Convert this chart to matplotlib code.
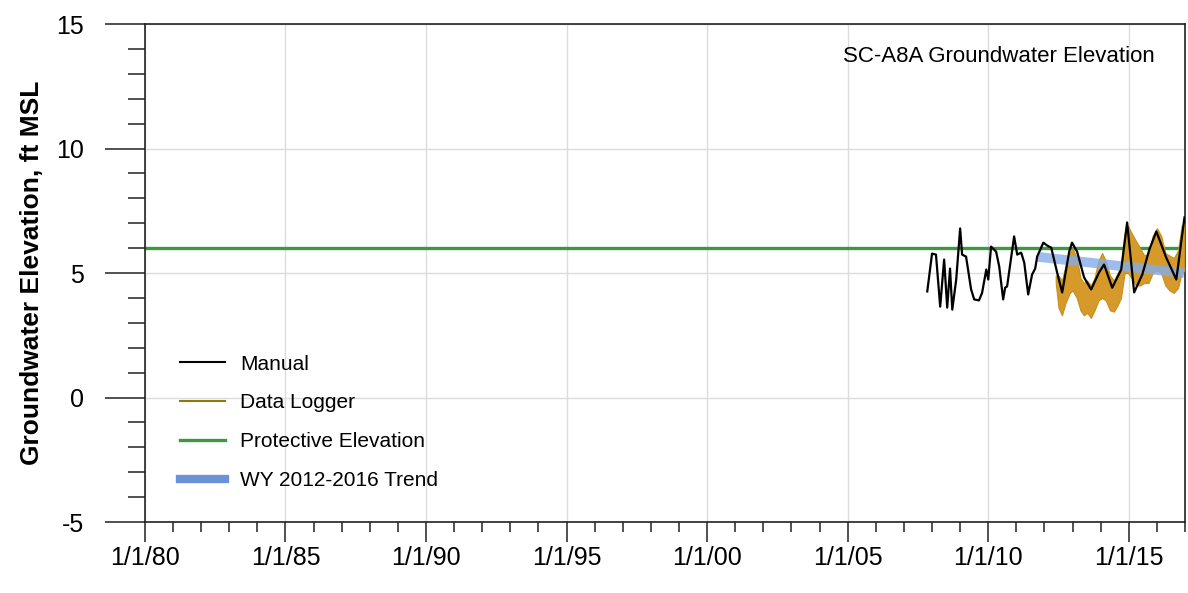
import matplotlib
matplotlib.use("Agg")
import matplotlib.pyplot as plt
from matplotlib.lines import Line2D
from matplotlib.ticker import MultipleLocator, FuncFormatter

# --- data (decimal years, ft MSL) ---
manual_yr = [2007.83, 2008.00, 2008.14, 2008.29, 2008.43, 2008.54, 2008.64, 2008.72,
             2008.86, 2009.00, 2009.07, 2009.21, 2009.39, 2009.50, 2009.67, 2009.78,
             2009.93, 2010.00, 2010.10, 2010.28, 2010.39, 2010.53, 2010.60, 2010.67,
             2010.92, 2011.03, 2011.17, 2011.28, 2011.42, 2011.56, 2011.67, 2011.74,
             2011.96, 2012.10, 2012.24, 2012.45, 2012.63, 2012.88, 2012.98, 2013.16,
             2013.41, 2013.66, 2013.94, 2014.12, 2014.41, 2014.73, 2014.94, 2015.19,
             2015.48, 2015.73, 2015.98, 2016.33, 2016.69, 2016.98]
manual_ft = [4.26, 5.78, 5.74, 3.65, 5.54, 3.61, 5.18, 3.53,
             4.74, 6.79, 5.74, 5.66, 4.34, 3.94, 3.90, 4.20,
             5.14, 4.74, 6.06, 5.86, 5.26, 3.94, 4.41, 4.46,
             6.47, 5.74, 5.82, 5.42, 4.14, 4.94, 5.18, 5.66,
             6.22, 6.10, 6.02, 5.02, 4.22, 5.86, 6.22, 5.86,
             4.82, 4.34, 5.02, 5.34, 4.41, 5.14, 7.03, 4.22,
             4.94, 5.94, 6.67, 5.62, 4.74, 7.23]

# data logger shown as its daily min/max band
logger_yr = [2012.40, 2012.50, 2012.62, 2012.75, 2012.90, 2013.00, 2013.15, 2013.28,
             2013.40, 2013.52, 2013.65, 2013.78, 2013.92, 2014.05, 2014.18, 2014.33,
             2014.47, 2014.60, 2014.72, 2014.85, 2014.97, 2015.10, 2015.25, 2015.40,
             2015.55, 2015.70, 2015.85, 2016.00, 2016.15, 2016.30, 2016.45, 2016.60,
             2016.75, 2016.88, 2016.97]
logger_lo = [4.6, 3.6, 3.3, 3.8, 4.2, 4.3, 4.0, 3.5,
             3.3, 3.4, 3.2, 3.5, 3.9, 4.0, 3.9, 3.5,
             3.45, 3.7, 4.0, 5.0, 5.0, 4.8, 4.5, 4.5,
             4.6, 4.6, 5.0, 5.1, 5.0, 4.5, 4.3, 4.2,
             4.4, 5.0, 5.1]
logger_hi = [4.9, 4.9, 4.7, 5.3, 5.8, 6.0, 5.6, 4.8,
             4.6, 4.7, 4.5, 4.8, 5.5, 5.8, 5.5, 4.9,
             4.7, 5.0, 5.3, 6.6, 6.9, 6.6, 6.3, 6.0,
             5.7, 5.8, 6.5, 6.8, 6.5, 5.8, 5.7, 5.6,
             5.9, 6.9, 7.0]

protective_yr = [1980.0, 2017.0]
protective_ft = [6.0, 6.0]

trend_yr = [2011.75, 2016.97]
trend_ft = [5.65, 5.0]

labels = ["Manual", "Data Logger", "Protective Elevation", "WY 2012-2016 Trend"]

plt.rcParams["font.family"] = ["Liberation Sans", "DejaVu Sans"]

fig = plt.figure(figsize=(11.88, 5.93), dpi=100, facecolor="white")
ax = fig.add_axes([0.122, 0.1197, 0.8755, 0.8398])

ax.grid(True, which="major", color="#dcdcdc", linewidth=1.0)
ax.set_axisbelow(True)

ax.plot(protective_yr, protective_ft, color="#3c9a3c", linewidth=2.4, zorder=2)
ax.fill_between(logger_yr, logger_lo, logger_hi, color="#d59a2a", linewidth=0.8,
                edgecolor="#c98f1e", zorder=3)
ax.plot(trend_yr, trend_ft, color="#86ace8", linewidth=7, alpha=0.8,
        solid_capstyle="butt", zorder=4)
ax.plot(manual_yr, manual_ft, color="black", linewidth=1.6, zorder=5)

ax.set_xlim(1980, 2017)
ax.set_ylim(-5, 15)
ax.xaxis.set_major_locator(MultipleLocator(5))
ax.xaxis.set_minor_locator(MultipleLocator(1))
ax.yaxis.set_major_locator(MultipleLocator(5))
ax.yaxis.set_minor_locator(MultipleLocator(1))
ax.xaxis.set_major_formatter(FuncFormatter(lambda v, p: f"1/1/{int(round(v)) % 100:02d}"))
ax.yaxis.set_major_formatter(FuncFormatter(lambda v, p: f"{int(round(v))}"))

ax.tick_params(axis="y", which="major", direction="out", length=29, width=1.1,
               pad=15, labelsize=18, color="#222222")
ax.tick_params(axis="y", which="minor", direction="out", length=12, width=1.1,
               color="#222222")
ax.tick_params(axis="x", which="major", direction="out", length=14.5, width=1.1,
               pad=3, labelsize=18, color="#222222")
ax.tick_params(axis="x", which="minor", direction="out", length=7, width=1.1,
               color="#222222")
for s in ax.spines.values():
    s.set_linewidth(1.2)
    s.set_color("#222222")

ax.set_ylabel("Groundwater Elevation, ft MSL", fontsize=19, fontweight="bold")
ax.yaxis.set_label_coords(-0.097, 0.5)

ax.text(0.971, 0.935, "SC-A8A Groundwater Elevation", transform=ax.transAxes,
        ha="right", va="center", fontsize=16)

handles = [
    Line2D([], [], color="black", linewidth=1.5),
    Line2D([], [], color="#8a7a10", linewidth=1.5),
    Line2D([], [], color="#3c9a3c", linewidth=2.4),
    Line2D([], [], color="#6b92d6", linewidth=6),
]
ax.legend(handles, labels, loc="upper left", bbox_to_anchor=(0.0337, 0.336),
          frameon=False, prop={"size": 15}, handlelength=2.16, handletextpad=0.72,
          labelspacing=0.95, borderpad=0, borderaxespad=0)

fig.savefig("out.png", dpi=100, facecolor="white")
